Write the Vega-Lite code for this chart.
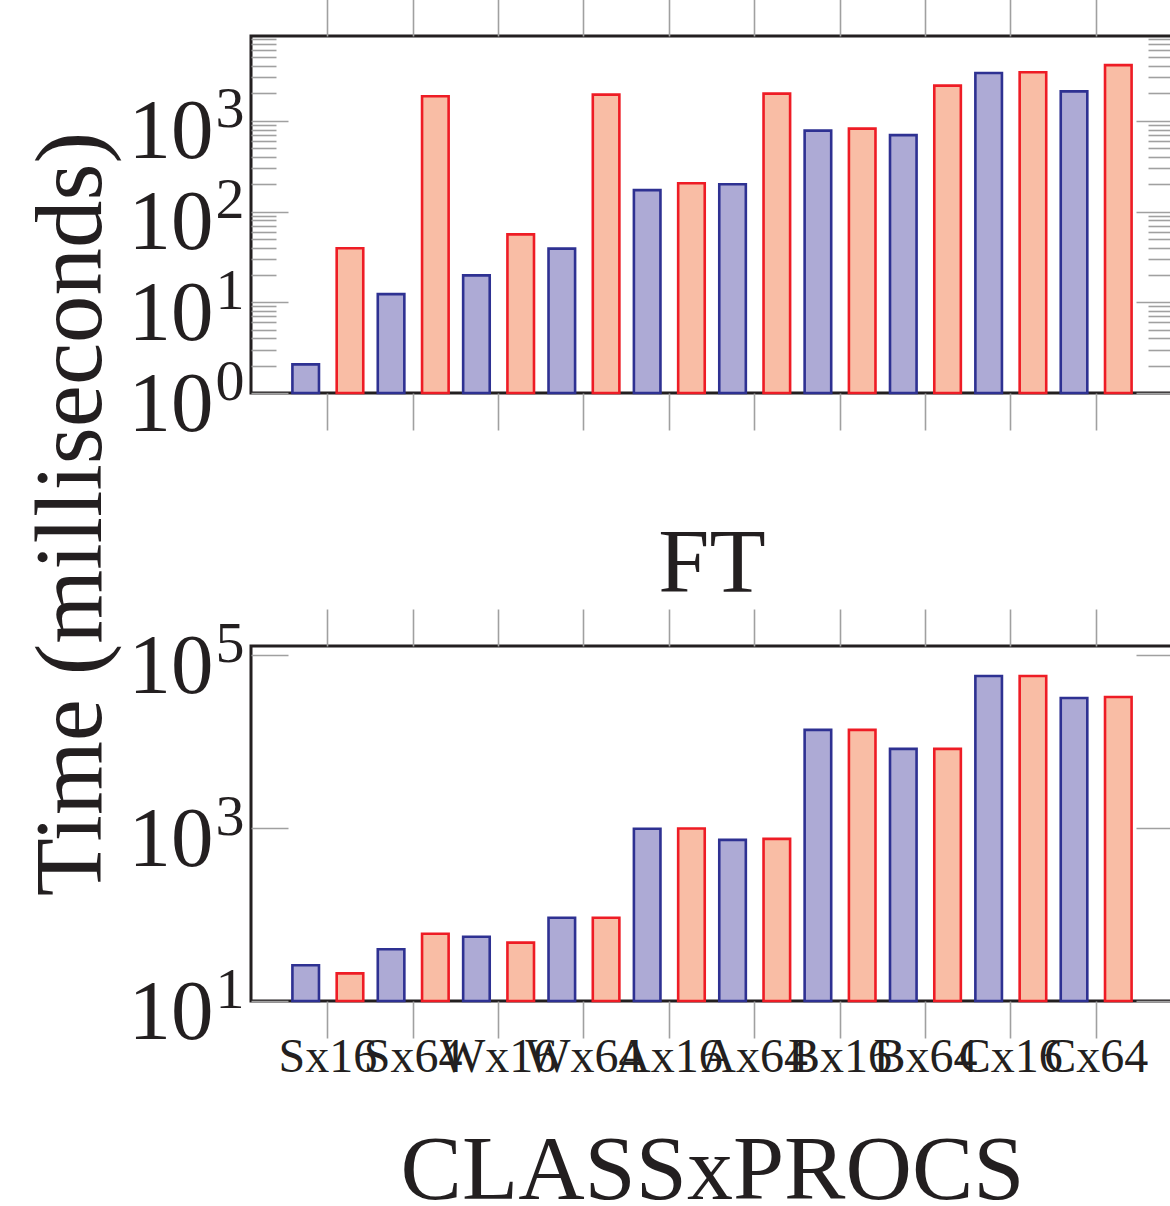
{
  "$schema": "https://vega.github.io/schema/vega-lite/v6.json",
  "usermeta": {"embedOptions": {"actions": false}},
  "background": "white",
  "padding": {"left": 22, "top": -4, "right": 0, "bottom": 0},
  "config": {
    "view": {"stroke": "#231f20", "strokeWidth": 3},
    "font": "Liberation Serif",
    "axis": {
      "grid": false,
      "domain": false,
      "tickColor": "#a0a0a0",
      "tickWidth": 1.6,
      "labelFont": "Liberation Serif",
      "titleFont": "Liberation Serif",
      "labelColor": "#231f20",
      "titleColor": "#231f20",
      "titleFontWeight": "normal",
      "labelOverlap": false
    },
    "title": {"font": "Liberation Serif", "fontWeight": "normal", "color": "#231f20"}
  },
  "datasets": {
    "top": [
      {"cls": "Sx16", "series": "s1", "time": 2.07},
      {"cls": "Sx16", "series": "s2", "time": 39.4},
      {"cls": "Sx64", "series": "s1", "time": 12.3},
      {"cls": "Sx64", "series": "s2", "time": 1860},
      {"cls": "Wx16", "series": "s1", "time": 19.8},
      {"cls": "Wx16", "series": "s2", "time": 56},
      {"cls": "Wx64", "series": "s1", "time": 39},
      {"cls": "Wx64", "series": "s2", "time": 1940},
      {"cls": "Ax16", "series": "s1", "time": 172},
      {"cls": "Ax16", "series": "s2", "time": 205},
      {"cls": "Ax64", "series": "s1", "time": 200},
      {"cls": "Ax64", "series": "s2", "time": 1990},
      {"cls": "Bx16", "series": "s1", "time": 778},
      {"cls": "Bx16", "series": "s2", "time": 818},
      {"cls": "Bx64", "series": "s1", "time": 694},
      {"cls": "Bx64", "series": "s2", "time": 2440},
      {"cls": "Cx16", "series": "s1", "time": 3360},
      {"cls": "Cx16", "series": "s2", "time": 3420},
      {"cls": "Cx64", "series": "s1", "time": 2110},
      {"cls": "Cx64", "series": "s2", "time": 4100}
    ],
    "bottom": [
      {"cls": "Sx16", "series": "s1", "time": 25.9},
      {"cls": "Sx16", "series": "s2", "time": 20.9},
      {"cls": "Sx64", "series": "s1", "time": 39.7},
      {"cls": "Sx64", "series": "s2", "time": 60},
      {"cls": "Wx16", "series": "s1", "time": 55.4},
      {"cls": "Wx16", "series": "s2", "time": 47.3},
      {"cls": "Wx64", "series": "s1", "time": 91.8},
      {"cls": "Wx64", "series": "s2", "time": 92},
      {"cls": "Ax16", "series": "s1", "time": 982},
      {"cls": "Ax16", "series": "s2", "time": 990},
      {"cls": "Ax64", "series": "s1", "time": 732},
      {"cls": "Ax64", "series": "s2", "time": 752},
      {"cls": "Bx16", "series": "s1", "time": 13700},
      {"cls": "Bx16", "series": "s2", "time": 13700},
      {"cls": "Bx64", "series": "s1", "time": 8260},
      {"cls": "Bx64", "series": "s2", "time": 8260},
      {"cls": "Cx16", "series": "s1", "time": 57650},
      {"cls": "Cx16", "series": "s2", "time": 57650},
      {"cls": "Cx64", "series": "s1", "time": 32070},
      {"cls": "Cx64", "series": "s2", "time": 32960}
    ]
  },
  "bounds": "flush",
  "spacing": 253,
  "vconcat": [
    {
      "width": 922,
      "height": 357,
      "data": {"name": "top"},
      "resolve": {"axis": {"x": "independent", "y": "independent"}},
      "layer": [
        {
          "mark": {"type": "bar", "strokeWidth": 2.6},
          "encoding": {
            "x": {"field": "cls", "type": "nominal", "sort": ["Sx16","Sx64","Wx16","Wx64","Ax16","Ax64","Bx16","Bx64","Cx16","Cx64"],
                  "scale": {"paddingInner": 0, "paddingOuter": 0.4},
                  "axis": {"orient": "bottom", "labels": false, "title": null, "tickSize": 37, "bandPosition": 0.5}},
            "xOffset": {"field": "series", "type": "nominal", "sort": ["s1","s2"], "scale": {"paddingInner": 0.4, "paddingOuter": 0.164}},
            "y": {"field": "time", "type": "quantitative", "stack": null,
                  "scale": {"type": "log", "domain": [1, 8590], "nice": false},
                  "axis": {"orient": "left", "values": [1, 10, 100, 1000], "tickSize": -37, "labelExpr": "'10'",
                           "labelFontSize": 85, "labelAlign": "right", "labelBaseline": "alphabetic", "labelOffset": 37,
                           "labelPadding": 75, "title": "Time (milliseconds)", "titleFontSize": 95, "titleAngle": 270,
                           "titleAlign": "center", "titleBaseline": "alphabetic", "titleX": -151, "titleY": 477.5}},
            "y2": {"datum": 1},
            "fill": {"field": "series", "type": "nominal", "scale": {"domain": ["s1","s2"], "range": ["#adaad5", "#f9bda5"]}, "legend": null},
            "stroke": {"field": "series", "type": "nominal", "scale": {"domain": ["s1","s2"], "range": ["#2e3192", "#ee1c25"]}, "legend": null}
          }
        },
        {
          "mark": {"type": "bar", "opacity": 0},
          "encoding": {
            "x": {"field": "cls", "type": "nominal", "sort": ["Sx16","Sx64","Wx16","Wx64","Ax16","Ax64","Bx16","Bx64","Cx16","Cx64"],
                  "axis": {"orient": "top", "labels": false, "title": null, "tickSize": 37, "bandPosition": 0.5}},
            "y": {"field": "time", "type": "quantitative", "stack": null,
                  "axis": {"orient": "left", "values": [1, 10, 100, 1000], "ticks": false,
                           "labelExpr": "datum.value == 1 ? '0' : datum.value == 10 ? '1' : datum.value == 100 ? '2' : datum.value == 1000 ? '3' : ''",
                           "labelFontSize": 58, "labelAlign": "left", "labelBaseline": "alphabetic", "labelOffset": 6,
                           "labelPadding": 36, "title": null}}
          }
        },
        {
          "mark": {"type": "bar", "opacity": 0},
          "encoding": {
            "y": {"field": "time", "type": "quantitative", "stack": null,
                  "axis": {"orient": "left", "values": [2,3,4,5,6,7,8,9,20,30,40,50,60,70,80,90,200,300,400,500,600,700,800,900,2000,3000,4000,5000,6000,7000,8000],
                           "tickSize": -25, "labels": false, "title": null}}
          }
        },
        {
          "mark": {"type": "bar", "opacity": 0},
          "encoding": {
            "y": {"field": "time", "type": "quantitative", "stack": null,
                  "axis": {"orient": "right", "values": [1, 10, 100, 1000], "tickSize": -37, "labels": false, "title": null}}
          }
        },
        {
          "mark": {"type": "bar", "opacity": 0},
          "encoding": {
            "y": {"field": "time", "type": "quantitative", "stack": null,
                  "axis": {"orient": "right", "values": [2,3,4,5,6,7,8,9,20,30,40,50,60,70,80,90,200,300,400,500,600,700,800,900,2000,3000,4000,5000,6000,7000,8000],
                           "tickSize": -25, "labels": false, "title": null}}
          }
        }
      ]
    },
    {
      "width": 922,
      "height": 355,
      "data": {"name": "bottom"},
      "title": {"text": "FT", "fontSize": 92, "frame": "group", "offset": -76, "baseline": "alphabetic", "anchor": "middle"},
      "resolve": {"axis": {"x": "independent", "y": "independent"}},
      "layer": [
        {
          "mark": {"type": "bar", "strokeWidth": 2.6},
          "encoding": {
            "x": {"field": "cls", "type": "nominal", "sort": ["Sx16","Sx64","Wx16","Wx64","Ax16","Ax64","Bx16","Bx64","Cx16","Cx64"],
                  "scale": {"paddingInner": 0, "paddingOuter": 0.4},
                  "axis": {"orient": "bottom", "tickSize": 37, "bandPosition": 0.5, "labelFontSize": 48, "labelAngle": 0,
                           "labelAlign": "center", "labelBaseline": "alphabetic", "labelPadding": 33.5,
                           "title": "CLASSxPROCS", "titleFontSize": 92, "titleBaseline": "alphabetic", "titleY": 197}},
            "xOffset": {"field": "series", "type": "nominal", "sort": ["s1","s2"], "scale": {"paddingInner": 0.4, "paddingOuter": 0.164}},
            "y": {"field": "time", "type": "quantitative", "stack": null,
                  "scale": {"type": "log", "domain": [10, 128000], "nice": false},
                  "axis": {"orient": "left", "values": [10, 1000, 100000], "tickSize": -37, "labelExpr": "'10'",
                           "labelFontSize": 85, "labelAlign": "right", "labelBaseline": "alphabetic", "labelOffset": 37,
                           "labelPadding": 75, "title": null}},
            "y2": {"datum": 10},
            "fill": {"field": "series", "type": "nominal", "scale": {"domain": ["s1","s2"], "range": ["#adaad5", "#f9bda5"]}, "legend": null},
            "stroke": {"field": "series", "type": "nominal", "scale": {"domain": ["s1","s2"], "range": ["#2e3192", "#ee1c25"]}, "legend": null}
          }
        },
        {
          "mark": {"type": "bar", "opacity": 0},
          "encoding": {
            "x": {"field": "cls", "type": "nominal", "sort": ["Sx16","Sx64","Wx16","Wx64","Ax16","Ax64","Bx16","Bx64","Cx16","Cx64"],
                  "axis": {"orient": "top", "labels": false, "title": null, "tickSize": 37, "bandPosition": 0.5}},
            "y": {"field": "time", "type": "quantitative", "stack": null,
                  "axis": {"orient": "left", "values": [10, 1000, 100000], "ticks": false,
                           "labelExpr": "datum.value == 10 ? '1' : datum.value == 1000 ? '3' : datum.value == 100000 ? '5' : ''",
                           "labelFontSize": 58, "labelAlign": "left", "labelBaseline": "alphabetic", "labelOffset": 6,
                           "labelPadding": 36, "title": null}}
          }
        },
        {
          "mark": {"type": "bar", "opacity": 0},
          "encoding": {
            "y": {"field": "time", "type": "quantitative", "stack": null,
                  "axis": {"orient": "right", "values": [10, 1000, 100000], "tickSize": -37, "labels": false, "title": null}}
          }
        }
      ]
    }
  ]
}
